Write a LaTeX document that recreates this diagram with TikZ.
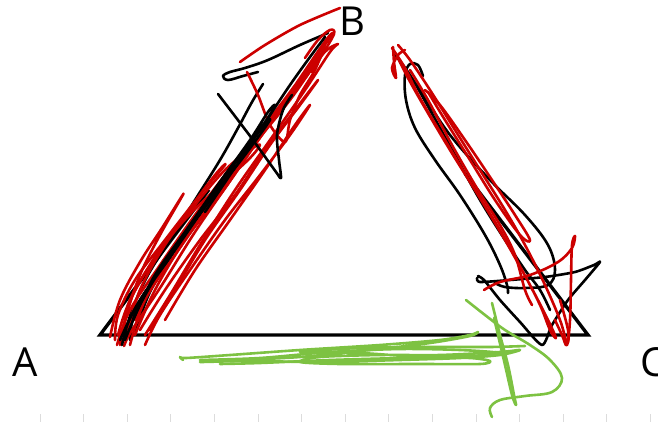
\documentclass[tikz,border=0pt]{standalone}
\usepackage{fontspec}
\usetikzlibrary{calc}
\newfontfamily\labfont{Open Sans}
\definecolor{scred}{RGB}{204,0,0}
\definecolor{scgreen}{RGB}{125,194,66}
\definecolor{tickgray}{RGB}{220,220,220}
\begin{document}
\begin{tikzpicture}[x=1pt,y=-1pt,
  tri/.style={draw=black,line width=3.4pt,line join=miter},
  rs/.style={draw=scred,line width=2.6pt,line cap=round,line join=round},
  ks/.style={draw=black,line width=2.6pt,line cap=round,line join=round},
  gs/.style={draw=scgreen,line width=2.6pt,line cap=round,line join=round},
  lab/.style={font=\labfont\fontsize{40}{40}\selectfont,inner sep=0pt},
  tk/.style={draw=tickgray,line width=1pt}]
\useasboundingbox (0,0) rectangle (658,422);
% ticks
\foreach \x in {40,83.6,127.2,170.8,214.4,258,301.6,345.2,388.8,432.4,476,519.6,563.2,606.8,650.4}
  \draw[tk] (\x,414) -- (\x,422);
% triangle
\coordinate (pa) at (100,335);
\coordinate (pc) at (588,335);
\coordinate (pb) at (342,12);
\draw[tri] ($(pa)!0.45!(pb)$) -- (pa) -- (pc) -- ($(pc)!0.5!(pb)$);
% labels
\node[lab] (A) at (25,362) {A};
\node[lab] (B) at (352,21) {B};
\node[lab,anchor=west] (C) at (640,362) {C};
% left black (under)
\draw[ks] plot[smooth,tension=0.6] coordinates {(130,340) (135,310) (155,278) (185,235) (215,195) (240,165) (232,170) (205,205) (175,250) (150,292) (136,330)};
\draw[ks] plot[smooth,tension=0.6] coordinates {(263,84) (252,102) (238,128) (220,160) (195,200) (170,240) (148,275) (132,310) (125,335)};
\draw[ks] plot[smooth,tension=0.6] coordinates {(328,33) (300,45) (268,60) (245,68) (230,72) (223,76) (228,80) (243,76) (258,72)};
% left red
\draw[rs] plot[smooth,tension=0.6] coordinates {(117,345) (130,310) (158,268) (195,215) (238,158) (278,108) (312,62) (332,35) (326,40) (300,78) (268,125) (232,178) (195,232) (160,288) (132,330) (124,346)};
\draw[rs] plot[smooth,tension=0.6] coordinates {(110,337) (120,300) (140,262) (162,228) (182,196) (180,200) (160,235) (140,275) (125,320) (120,345)};
\draw[rs] plot[smooth,tension=0.6] coordinates {(130,345) (145,300) (175,255) (210,205) (250,150) (290,100) (322,55) (338,44) (330,52) (305,90) (270,140) (235,190) (200,245) (170,295) (145,335)};
\draw[rs] plot[smooth,tension=0.6] coordinates {(140,330) (165,290) (200,240) (235,195) (265,150) (295,110) (318,80) (300,105) (270,145) (240,190) (205,240) (175,290) (150,330)};
\draw[rs] plot[smooth,tension=0.6] coordinates {(115,340) (118,315) (135,280) (165,240) (200,195) (225,165) (215,175) (185,215) (150,265) (128,305) (118,335)};
\draw[rs] plot[smooth,tension=0.6] coordinates {(145,345) (160,315) (190,270) (225,220) (260,175) (290,135) (310,105) (295,125) (265,170) (230,220) (195,270) (165,320)};
\draw[rs] plot[smooth,tension=0.5] coordinates {(340,8) (300,25) (265,45) (240,62)};
\draw[rs] plot[smooth,tension=0.5] coordinates {(247,72) (258,95) (270,125) (285,142) (290,120) (300,95) (315,70) (325,45)};
\draw[rs] plot[smooth,tension=0.6] coordinates {(125,335) (128,305) (150,265) (180,225) (215,190) (248,160) (260,145) (250,150) (225,170) (195,205) (165,245) (140,290) (128,330)};
\draw[rs] plot[smooth,tension=0.6] coordinates {(135,320) (160,270) (195,225) (230,180) (265,130) (300,85) (325,50) (320,55) (290,95) (255,145) (220,195) (185,240) (155,290) (135,335)};
\draw[rs] plot[smooth,tension=0.6] coordinates {(305,58) (318,40) (330,30) (334,34) (322,55) (312,72)};
% left black (over)
\draw[ks] plot[smooth,tension=0.6] coordinates {(122,345) (130,318) (150,285) (180,240) (215,190) (245,150) (268,118) (275,105) (268,112) (250,140) (220,182) (190,225) (160,270) (140,305) (125,340)};
\draw[ks] plot[smooth,tension=0.6] coordinates {(120,340) (140,300) (175,250) (210,200) (245,155) (270,120) (258,132) (225,175) (190,225) (155,275) (133,320)};
\draw[ks] plot[smooth,tension=0.5] coordinates {(218,94) (250,136) (276,172) (281,178) (279,160) (277,135) (283,110) (292,95)};
\draw[ks] plot[smooth,tension=0.6] coordinates {(325,37) (310,57) (290,85) (270,115) (250,145) (230,175) (205,212)};
% right black
\draw[ks] plot[smooth,tension=0.6] coordinates {(423,76) (418,65) (410,64) (405,75) (406,100) (415,128) (435,160) (460,195) (485,235) (500,265) (507,285) (508,293)};
\draw[ks] plot[smooth,tension=0.6] coordinates {(400,62) (420,90) (450,135) (490,180) (525,215) (548,245) (555,270) (548,285) (525,288) (505,287) (495,283)};
\draw[ks] plot[smooth,tension=0.6] coordinates {(395,55) (410,75) (430,110) (455,155) (480,200) (505,240) (525,270) (540,290) (550,310)};
\draw[ks] plot[smooth,tension=0.4] coordinates {(478,276) (484,280) (500,300) (520,322) (542,345) (552,325) (568,300) (585,280) (600,262) (594,265) (575,272) (545,277) (510,280) (480,282) (477,278)};
% right red
\draw[rs] plot[smooth,tension=0.6] coordinates {(392,48) (405,68) (420,98) (445,140) (472,185) (500,230) (522,270) (540,305) (550,330) (556,338) (548,320) (530,285) (505,240) (478,195) (450,150) (425,108) (408,78) (398,58)};
\draw[rs] plot[smooth,tension=0.6] coordinates {(398,45) (410,60) (430,90) (455,130) (480,170) (505,210) (525,245) (545,285) (560,320) (567,343) (568,330) (560,300)};
\draw[rs] plot[smooth,tension=0.6] coordinates {(425,90) (440,105) (465,140) (492,180) (515,215) (530,240) (520,235) (495,200) (470,160) (445,120) (428,92)};
\draw[rs] plot[smooth,tension=0.6] coordinates {(410,70) (428,100) (452,145) (478,190) (500,225) (515,255) (525,290) (532,305)};
\draw[rs] plot[smooth,tension=0.5] coordinates {(393,47) (394,62) (396,78) (392,68) (398,55) (405,50)};
\draw[rs] plot[smooth,tension=0.6] coordinates {(484,290) (500,282) (530,275) (558,262) (572,248) (575,236) (572,245) (571,280) (570,320) (567,345) (562,335) (555,320)};
% green
\draw[gs] plot[smooth,tension=0.5] coordinates {(183,360) (180,357) (186,358) (230,355) (300,350) (380,345) (440,340) (470,335) (478,332) (470,336) (430,343) (370,350) (300,357) (240,360) (200,362) (250,361) (320,362) (400,360) (460,358) (500,355) (520,350) (500,352) (440,355) (380,355) (320,357) (300,362) (340,364) (420,364) (480,364) (490,361) (470,358) (420,357) (360,353) (300,352) (360,348) (430,347) (490,347) (525,346)};
\draw[gs] plot[smooth,tension=0.5] coordinates {(200,360) (260,358) (330,352) (400,349) (460,350) (500,353) (470,356) (400,358) (330,360) (260,363) (220,364)};
\draw[gs] plot[smooth,tension=0.6] coordinates {(466,300) (485,315) (505,330) (530,345) (550,360) (562,378) (552,392) (525,396) (500,400) (490,408) (492,417)};
\draw[gs] plot[smooth,tension=0.6] coordinates {(492,303) (500,335) (508,365) (514,395) (516,405) (512,395) (505,365) (498,335) (494,318)};
\end{tikzpicture}
\end{document}
